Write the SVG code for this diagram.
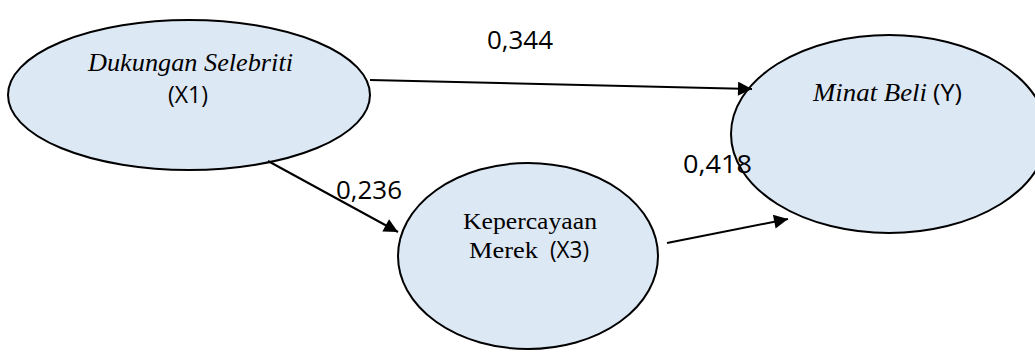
<svg xmlns="http://www.w3.org/2000/svg" width="1035" height="352" viewBox="0 0 1035 352">
  <style>
    .node { fill: #dde8f5; stroke: #000; stroke-width: 2; }
    .serif { font-family: "Liberation Serif", "Times New Roman", serif; font-size: 26px; fill: #000; }
    .small { font-size: 23px; }
    .it { font-style: italic; }
    .sans { font-family: "Open Sans", "Liberation Sans", sans-serif; font-size: 23px; fill: #000; }
    .coef { font-family: "Open Sans", "Liberation Sans", sans-serif; font-size: 25px; fill: #000; }
    .edge { stroke: #000; stroke-width: 2; fill: none; marker-end: url(#arrow); }
  </style>
  <defs>
    <marker id="arrow" viewBox="0 0 10 10" refX="10" refY="5" markerWidth="8" markerHeight="7" markerUnits="strokeWidth" orient="auto">
      <path d="M0,0 L10,5 L0,10 z" fill="#000"/>
    </marker>
  </defs>
  <rect width="1035" height="352" fill="#fff"/>

  <g id="node-x1">
    <ellipse class="node" cx="189" cy="95" rx="181" ry="75"/>
    <text class="serif it" x="88" y="71" textLength="205" lengthAdjust="spacingAndGlyphs">Dukungan Selebriti</text>
    <text class="sans" x="168" y="103" textLength="40" lengthAdjust="spacingAndGlyphs">(X1)</text>
  </g>

  <g id="node-x3">
    <ellipse class="node" cx="528" cy="256" rx="130" ry="93"/>
    <text class="serif small" x="463" y="229" textLength="134" lengthAdjust="spacingAndGlyphs">Kepercayaan</text>
    <text class="serif small" x="469" y="258" textLength="69" lengthAdjust="spacingAndGlyphs">Merek</text>
    <text class="sans" x="550" y="258" textLength="39" lengthAdjust="spacingAndGlyphs">(X3)</text>
  </g>

  <g id="node-y">
    <ellipse class="node" cx="889" cy="134" rx="158" ry="99"/>
    <text class="serif it" x="813" y="101" textLength="114" lengthAdjust="spacingAndGlyphs">Minat Beli</text>
    <text class="sans" x="933" y="101" textLength="29" lengthAdjust="spacingAndGlyphs">(Y)</text>
  </g>

  <g id="connectors">
    <line class="edge" x1="370" y1="80" x2="752" y2="89"/>
    <line class="edge" x1="268" y1="161" x2="398" y2="232"/>
    <line class="edge" x1="667" y1="243" x2="788" y2="219"/>
  </g>

  <g id="coefficients">
    <text class="coef" x="487" y="49" textLength="66" lengthAdjust="spacingAndGlyphs">0,344</text>
    <text class="coef" x="336" y="199" textLength="66" lengthAdjust="spacingAndGlyphs">0,236</text>
    <text class="coef" x="683" y="173" textLength="69" lengthAdjust="spacingAndGlyphs">0,418</text>
  </g>
</svg>
